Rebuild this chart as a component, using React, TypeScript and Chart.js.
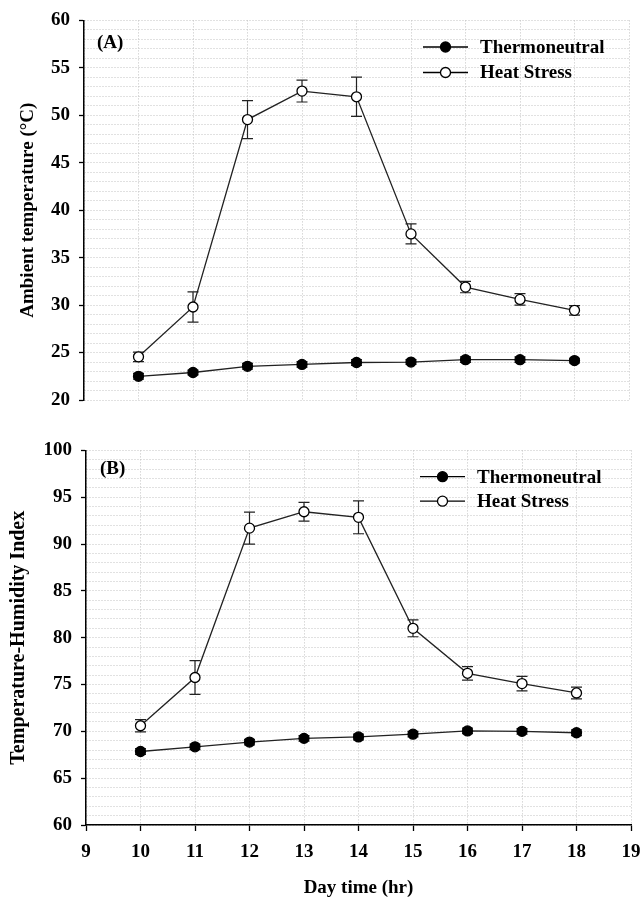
import React, { useEffect, useRef } from 'react';
import { Chart, registerables } from 'chart.js';

Chart.register(...registerables);

// ---------- data ----------
const hours = [10, 11, 12, 13, 14, 15, 16, 17, 18];
const xMin = 9;
const xMax = 19;

const tempThermo = [22.5, 22.9, 23.55, 23.75, 23.95, 24.0, 24.25, 24.25, 24.15];
const tempThermoErr = [0.3, 0.25, 0.3, 0.3, 0.3, 0.25, 0.3, 0.3, 0.25];
const tempHeat = [24.55, 29.8, 49.55, 52.55, 51.95, 37.5, 31.9, 30.6, 29.45];
const tempHeatErr = [0.5, 1.6, 2.0, 1.15, 2.07, 1.05, 0.6, 0.6, 0.5];

const thiThermo = [67.85, 68.35, 68.85, 69.25, 69.4, 69.7, 70.05, 70.0, 69.85];
const thiThermoErr = [0.3, 0.3, 0.3, 0.3, 0.3, 0.3, 0.3, 0.3, 0.3];
const thiHeat = [70.6, 75.75, 91.7, 93.45, 92.85, 81.0, 76.2, 75.1, 74.1];
const thiHeatErr = [0.65, 1.8, 1.7, 1.0, 1.75, 0.9, 0.72, 0.78, 0.63];

const seriesLabels = ['Thermoneutral', 'Heat Stress'];
const panelLabels = ['(A)', '(B)'];
const yTitles = ['Ambient temperature (\u00B0C)', 'Temperature-Humidity Index'];
const xTitle = 'Day time (hr)';

const FONT = "'Liberation Serif', 'Times New Roman', serif";

// ---------- plugins ----------
const errorBarPlugin = {
  id: 'errorBars',
  beforeDatasetsDraw(chart: any) {
    const { ctx, scales } = chart;
    const x = scales.x;
    const y = scales.y;
    chart.data.datasets.forEach((ds: any) => {
      const errs = ds.errors;
      if (!errs) return;
      ctx.save();
      ctx.strokeStyle = '#222';
      ctx.lineWidth = 1.2;
      ds.data.forEach((p: any, j: number) => {
        const px = x.getPixelForValue(p.x);
        const top = y.getPixelForValue(p.y + errs[j]);
        const bot = y.getPixelForValue(p.y - errs[j]);
        ctx.beginPath();
        ctx.moveTo(px, top);
        ctx.lineTo(px, bot);
        ctx.moveTo(px - 5.5, top);
        ctx.lineTo(px + 5.5, top);
        ctx.moveTo(px - 5.5, bot);
        ctx.lineTo(px + 5.5, bot);
        ctx.stroke();
      });
      ctx.restore();
    });
  },
};

const insideLegendPlugin = {
  id: 'insideLegend',
  afterDraw(chart: any, _args: any, opts: any) {
    if (!opts || opts.x1 === undefined) return;
    const { ctx } = chart;
    chart.data.datasets.forEach((ds: any, i: number) => {
      const y = opts.y + i * opts.gap;
      ctx.save();
      ctx.strokeStyle = '#000';
      ctx.lineWidth = 1.3;
      ctx.beginPath();
      ctx.moveTo(opts.x1, y);
      ctx.lineTo(opts.x2, y);
      ctx.stroke();
      ctx.beginPath();
      ctx.arc((opts.x1 + opts.x2) / 2, y, 5, 0, Math.PI * 2);
      ctx.fillStyle = ds.pointBackgroundColor;
      ctx.fill();
      ctx.stroke();
      ctx.font = `bold 19px ${FONT}`;
      ctx.fillStyle = '#000';
      ctx.textBaseline = 'middle';
      ctx.textAlign = 'left';
      ctx.fillText(ds.label, opts.tx, y + 1);
      ctx.restore();
    });
    ctx.save();
    ctx.font = `bold 19px ${FONT}`;
    ctx.fillStyle = '#000';
    ctx.textBaseline = 'middle';
    ctx.textAlign = 'left';
    ctx.fillText(opts.panel, opts.px, opts.py);
    ctx.restore();
  },
};

// ---------- config builder ----------
function makeConfig(p: any) {
  const mk = (xs: number[], ys: number[]) => xs.map((x, i) => ({ x, y: ys[i] }));
  const gridColor = '#c2c2c2';
  return {
    type: 'line',
    data: {
      datasets: [
        {
          label: seriesLabels[0],
          data: mk(hours, p.tn),
          errors: p.tnErr,
          borderColor: '#222',
          borderWidth: 1.3,
          pointRadius: 5,
          pointBorderWidth: 1.3,
          pointBorderColor: '#000',
          pointBackgroundColor: '#000',
          tension: 0,
          fill: false,
        },
        {
          label: seriesLabels[1],
          data: mk(hours, p.hs),
          errors: p.hsErr,
          borderColor: '#222',
          borderWidth: 1.3,
          pointRadius: 5,
          pointBorderWidth: 1.3,
          pointBorderColor: '#000',
          pointBackgroundColor: '#fff',
          tension: 0,
          fill: false,
        },
      ],
    },
    options: {
      animation: false,
      responsive: false,
      maintainAspectRatio: false,
      layout: { padding: p.padding },
      plugins: {
        legend: { display: false },
        tooltip: { enabled: false },
        insideLegend: p.legend,
      },
      scales: {
        x: {
          type: 'linear',
          min: xMin,
          max: xMax,
          afterFit: (s: any) => {
            s.height = p.xHeight;
            s.paddingLeft = 0;
            s.paddingRight = 0;
          },
          ticks: {
            display: p.showX,
            stepSize: 1,
            autoSkip: false,
            padding: 10,
            color: '#000',
            font: { family: FONT, size: 19, weight: 'bold' },
          },
          grid: {
            color: gridColor,
            lineWidth: 1,
            drawTicks: p.showX,
            tickLength: 6,
            tickColor: '#000',
            tickWidth: 1.3,
          },
          border: { display: p.showX, color: '#000', width: 1.5, dash: [1, 2] },
          title: {
            display: p.showX,
            text: xTitle,
            color: '#000',
            font: { family: FONT, size: 19, weight: 'bold' },
            padding: { top: 0, bottom: 3 },
          },
        },
        y: {
          type: 'linear',
          min: p.yMin,
          max: p.yMax,
          afterFit: (s: any) => {
            s.width = p.yWidth;
          },
          ticks: {
            stepSize: 1,
            autoSkip: false,
            padding: 9,
            color: '#000',
            font: { family: FONT, size: 19, weight: 'bold' },
            callback: (v: any) => (Number(v) % 5 === 0 ? String(v) : ''),
          },
          grid: {
            color: gridColor,
            lineWidth: 1,
            drawTicks: true,
            tickLength: 5,
            tickWidth: 1.3,
            tickColor: (c: any) =>
              c.tick && Number(c.tick.value) % 5 === 0 ? '#000' : 'rgba(0,0,0,0)',
          },
          border: { display: true, color: '#000', width: 1.5, dash: [1, 2] },
          title: {
            display: true,
            text: p.yTitle,
            color: '#000',
            font: { family: FONT, size: p.yTitleSize, weight: 'bold' },
            padding: { top: p.yTitlePad, bottom: 0 },
          },
        },
      },
    },
    plugins: [errorBarPlugin, insideLegendPlugin],
  } as any;
}

export default function App() {
  const refA = useRef<HTMLCanvasElement>(null);
  const refB = useRef<HTMLCanvasElement>(null);

  useEffect(() => {
    const chartA = new Chart(
      refA.current as HTMLCanvasElement,
      makeConfig({
        tn: tempThermo,
        tnErr: tempThermoErr,
        hs: tempHeat,
        hsErr: tempHeatErr,
        yMin: 20,
        yMax: 60,
        yTitle: yTitles[0],
        yTitleSize: 19,
        yTitlePad: 17,
        yWidth: 84,
        xHeight: 0,
        showX: false,
        padding: { top: 19, right: 12, bottom: 30, left: 0 },
        legend: { x1: 423, x2: 468, y: 47, gap: 25.5, tx: 480, panel: panelLabels[0], px: 97, py: 43 },
      })
    );
    const chartB = new Chart(
      refB.current as HTMLCanvasElement,
      makeConfig({
        tn: thiThermo,
        tnErr: thiThermoErr,
        hs: thiHeat,
        hsErr: thiHeatErr,
        yMin: 60,
        yMax: 100,
        yTitle: yTitles[1],
        yTitleSize: 20,
        yTitlePad: 7,
        yWidth: 86,
        xHeight: 77,
        showX: true,
        padding: { top: 13, right: 10, bottom: 0, left: 0 },
        legend: { x1: 420, x2: 465, y: 46.7, gap: 24.5, tx: 477, panel: panelLabels[1], px: 100, py: 39 },
      })
    );
    return () => {
      chartA.destroy();
      chartB.destroy();
    };
  }, []);

  return (
    <div style={{ position: 'absolute', left: 0, top: 0, width: 641, height: 902, background: '#fff' }}>
      <canvas ref={refA} width={641} height={430} style={{ position: 'absolute', left: 0, top: 0 }} />
      <canvas ref={refB} width={641} height={472} style={{ position: 'absolute', left: 0, top: 430 }} />
    </div>
  );
}
